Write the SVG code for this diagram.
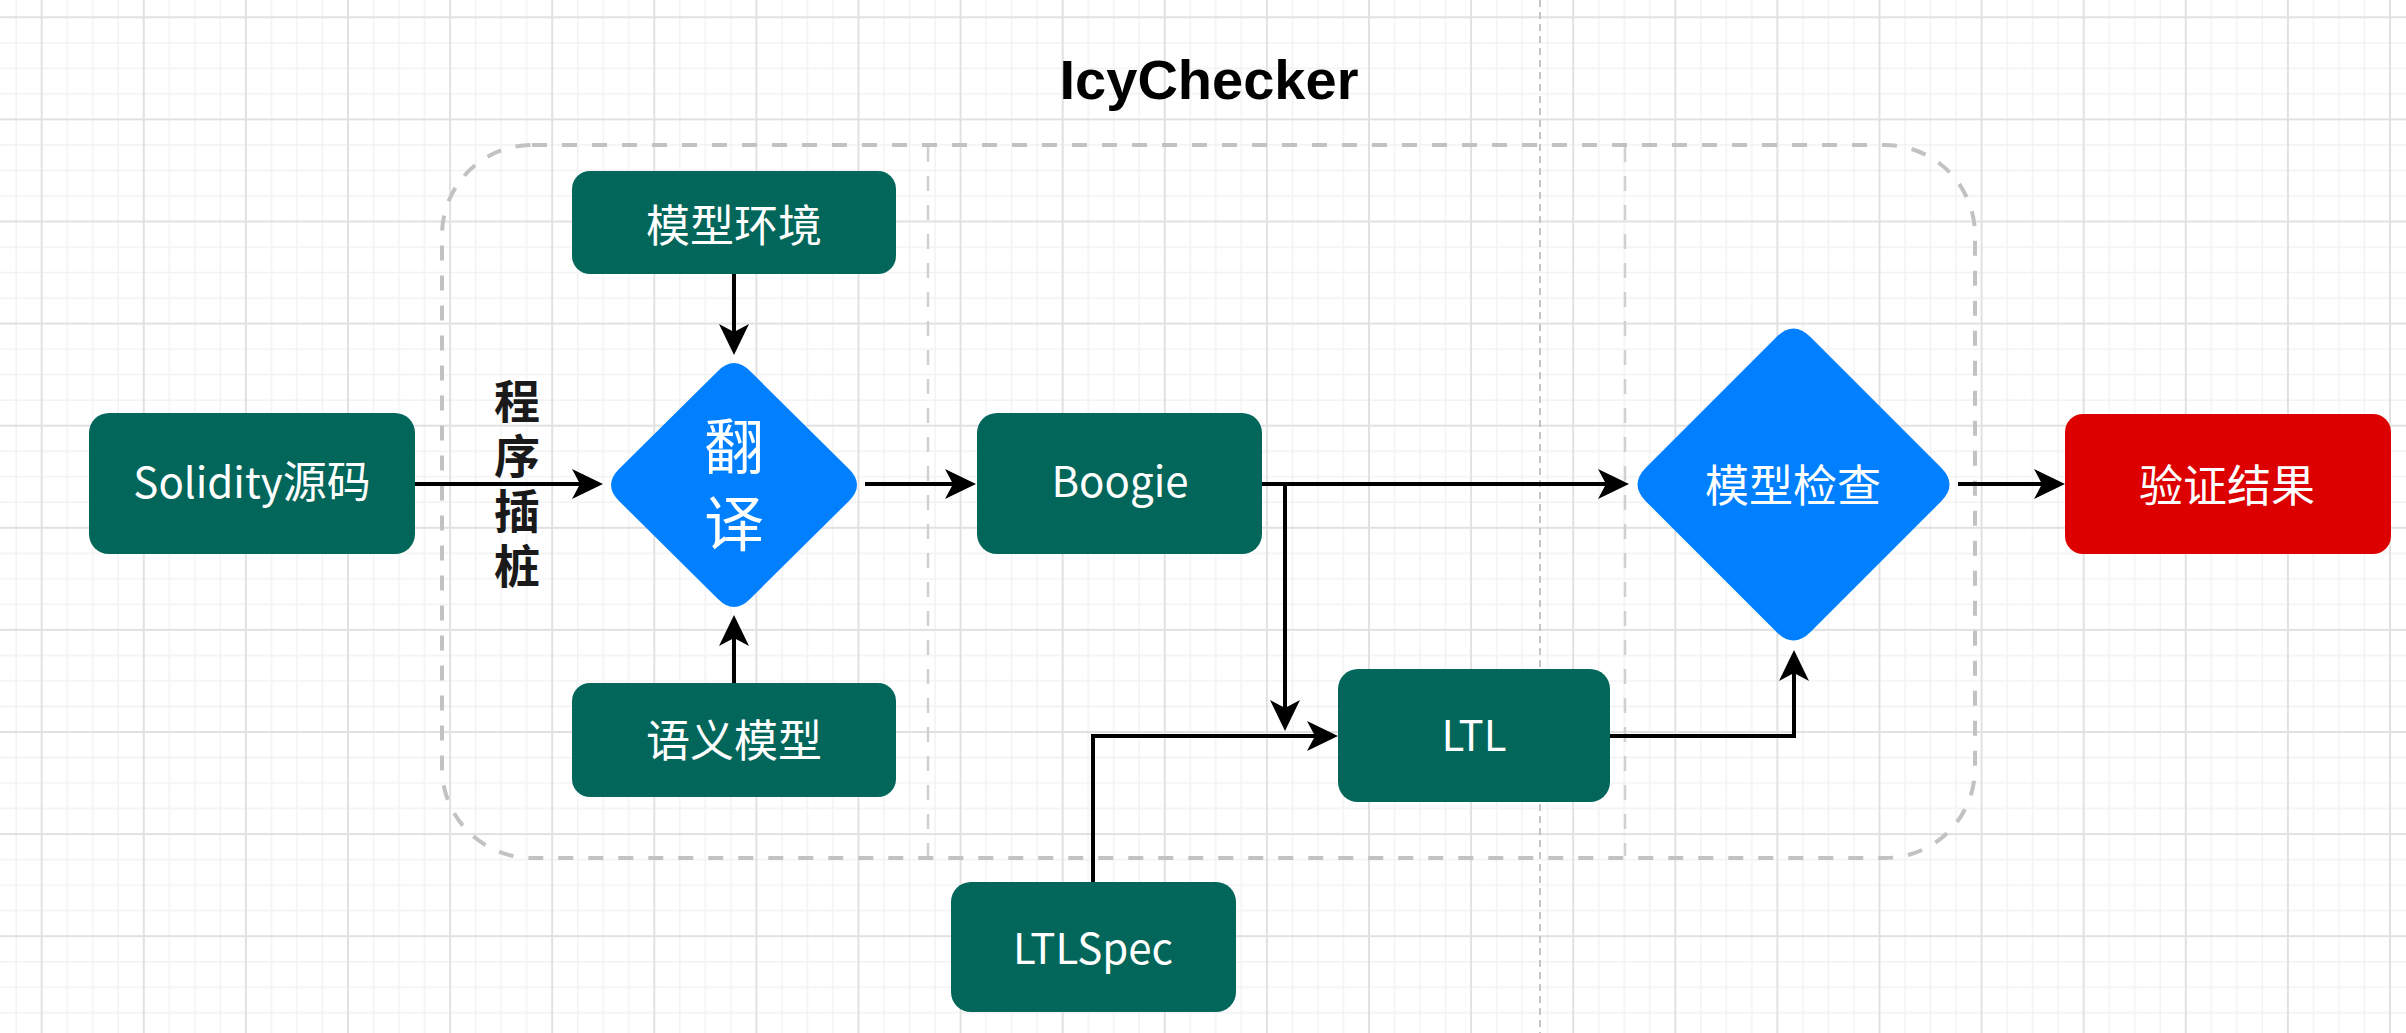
<svg xmlns="http://www.w3.org/2000/svg" width="2406" height="1033" viewBox="0 0 2406 1033">
  <style>
    .node-rect { fill: #02665A; }
    .node-red { fill: #DD0000; }
    .node-diamond { fill: #0080FF; }
    .lbl { font-family: "Noto Sans CJK SC", "Noto Sans", sans-serif; font-size: 44px; fill: #ffffff; text-anchor: middle; }
    .lat { font-size: 42px; }
    .big { font-family: "Noto Sans CJK SC", "Noto Sans", sans-serif; font-size: 60px; fill: #ffffff; writing-mode: vertical-rl; text-orientation: upright; letter-spacing: 17px; }
    .side { font-family: "Noto Sans CJK SC", "Noto Sans", sans-serif; font-size: 46px; font-weight: bold; fill: #1a1a1a; writing-mode: vertical-rl; text-orientation: upright; letter-spacing: 8.7px; }
    .title { font-family: "Liberation Sans", "Noto Sans CJK SC", sans-serif; font-size: 56px; font-weight: bold; fill: #000000; text-anchor: middle; }
    .edge { fill: none; stroke: #000000; stroke-width: 4; marker-end: url(#arr); }
    .frame { fill: none; stroke: #c2c2c2; stroke-width: 4; stroke-dasharray: 15 15; }
    .divider { fill: none; stroke: #d0d0d0; stroke-width: 2.5; stroke-dasharray: 15 14; }
    .pagebreak { fill: none; stroke: #b4b4b4; stroke-width: 1.5; stroke-dasharray: 7 5; }
  </style>
  <defs>
    <pattern id="grid" x="40.7" y="16.3" width="102.1" height="102.1" patternUnits="userSpaceOnUse">
      <path d="M26.5 0V102.1M52.05 0V102.1M77.6 0V102.1M0 26.5H102.1M0 52.05H102.1M0 77.6H102.1" stroke="#f2f2f2" stroke-width="1.5" fill="none"/>
      <path d="M1 0V102.1M0 1H102.1" stroke="#e1e1e1" stroke-width="2" fill="none"/>
    </pattern>
    <marker id="arr" markerUnits="userSpaceOnUse" viewBox="0 0 32 30" markerWidth="32" markerHeight="30" refX="21" refY="15" orient="auto">
      <path d="M0,0 L31,15 L0,30 L8,15 Z" fill="#000000"/>
    </marker>
  </defs>

  <g id="background">
    <rect x="0" y="0" width="2406" height="1033" fill="#ffffff"/>
    <rect x="0" y="0" width="2406" height="1033" fill="url(#grid)"/>
    <line class="pagebreak" x1="1540" y1="0" x2="1540" y2="1033"/>
  </g>

  <g id="container">
    <rect class="frame" x="442" y="145" width="1533" height="713" rx="90" ry="90"/>
    <line class="divider" x1="928" y1="147" x2="928" y2="856"/>
    <line class="divider" x1="1625" y1="147" x2="1625" y2="856"/>
  </g>

  <g id="title">
    <text class="title" x="1209" y="99">IcyChecker</text>
  </g>

  <g id="connectors">
    <path class="edge" d="M415,484 H593"/>
    <path class="edge" d="M734,274 V345"/>
    <path class="edge" d="M734,683 V625"/>
    <path class="edge" d="M865,484 H966"/>
    <path class="edge" d="M1262,484 H1619"/>
    <path class="edge" d="M1262,484 H1285 V721"/>
    <path class="edge" d="M1093,882 V736 H1328"/>
    <path class="edge" d="M1610,736 H1794 V660"/>
    <path class="edge" d="M1958,484 H2055"/>
  </g>

  <g id="edge-label-instrument">
    <text class="side" x="517" y="378">程序插桩</text>
  </g>

  <g id="node-solidity">
    <rect class="node-rect" x="89" y="413" width="326" height="141" rx="20" ry="20"/>
    <text class="lbl" x="252" y="498"><tspan class="lat">Solidity</tspan>源码</text>
  </g>

  <g id="node-env">
    <rect class="node-rect" x="572" y="171" width="324" height="103" rx="18" ry="18"/>
    <text class="lbl" x="734" y="242">模型环境</text>
  </g>

  <g id="node-semantic">
    <rect class="node-rect" x="572" y="683" width="324" height="114" rx="18" ry="18"/>
    <text class="lbl" x="734" y="757">语义模型</text>
  </g>

  <g id="node-translate">
    <path class="node-diamond" d="M750,371 L849,469 Q865,485 849,501 L750,599 Q734,615 718,599 L619,501 Q603,485 619,469 L718,371 Q734,355 750,371 Z"/>
    <text class="big" x="734" y="416">翻译</text>
  </g>

  <g id="node-boogie">
    <rect class="node-rect" x="977" y="413" width="285" height="141" rx="20" ry="20"/>
    <text class="lbl lat" x="1120" y="497">Boogie</text>
  </g>

  <g id="node-ltl">
    <rect class="node-rect" x="1338" y="669" width="272" height="133" rx="20" ry="20"/>
    <text class="lbl lat" x="1474" y="751">LTL</text>
  </g>

  <g id="node-ltlspec">
    <rect class="node-rect" x="951" y="882" width="285" height="130" rx="20" ry="20"/>
    <text class="lbl lat" x="1093" y="964">LTLSpec</text>
  </g>

  <g id="node-modelcheck">
    <path class="node-diamond" d="M1810.5,337 L1941,467.5 Q1958,484.5 1941,501.5 L1810.5,632 Q1793.5,649 1776.5,632 L1646,501.5 Q1629,484.5 1646,467.5 L1776.5,337 Q1793.5,320 1810.5,337 Z"/>
    <text class="lbl" x="1793" y="502">模型检查</text>
  </g>

  <g id="node-result">
    <rect class="node-red" x="2065" y="414" width="326" height="140" rx="18" ry="18"/>
    <text class="lbl" x="2227" y="502">验证结果</text>
  </g>
</svg>
